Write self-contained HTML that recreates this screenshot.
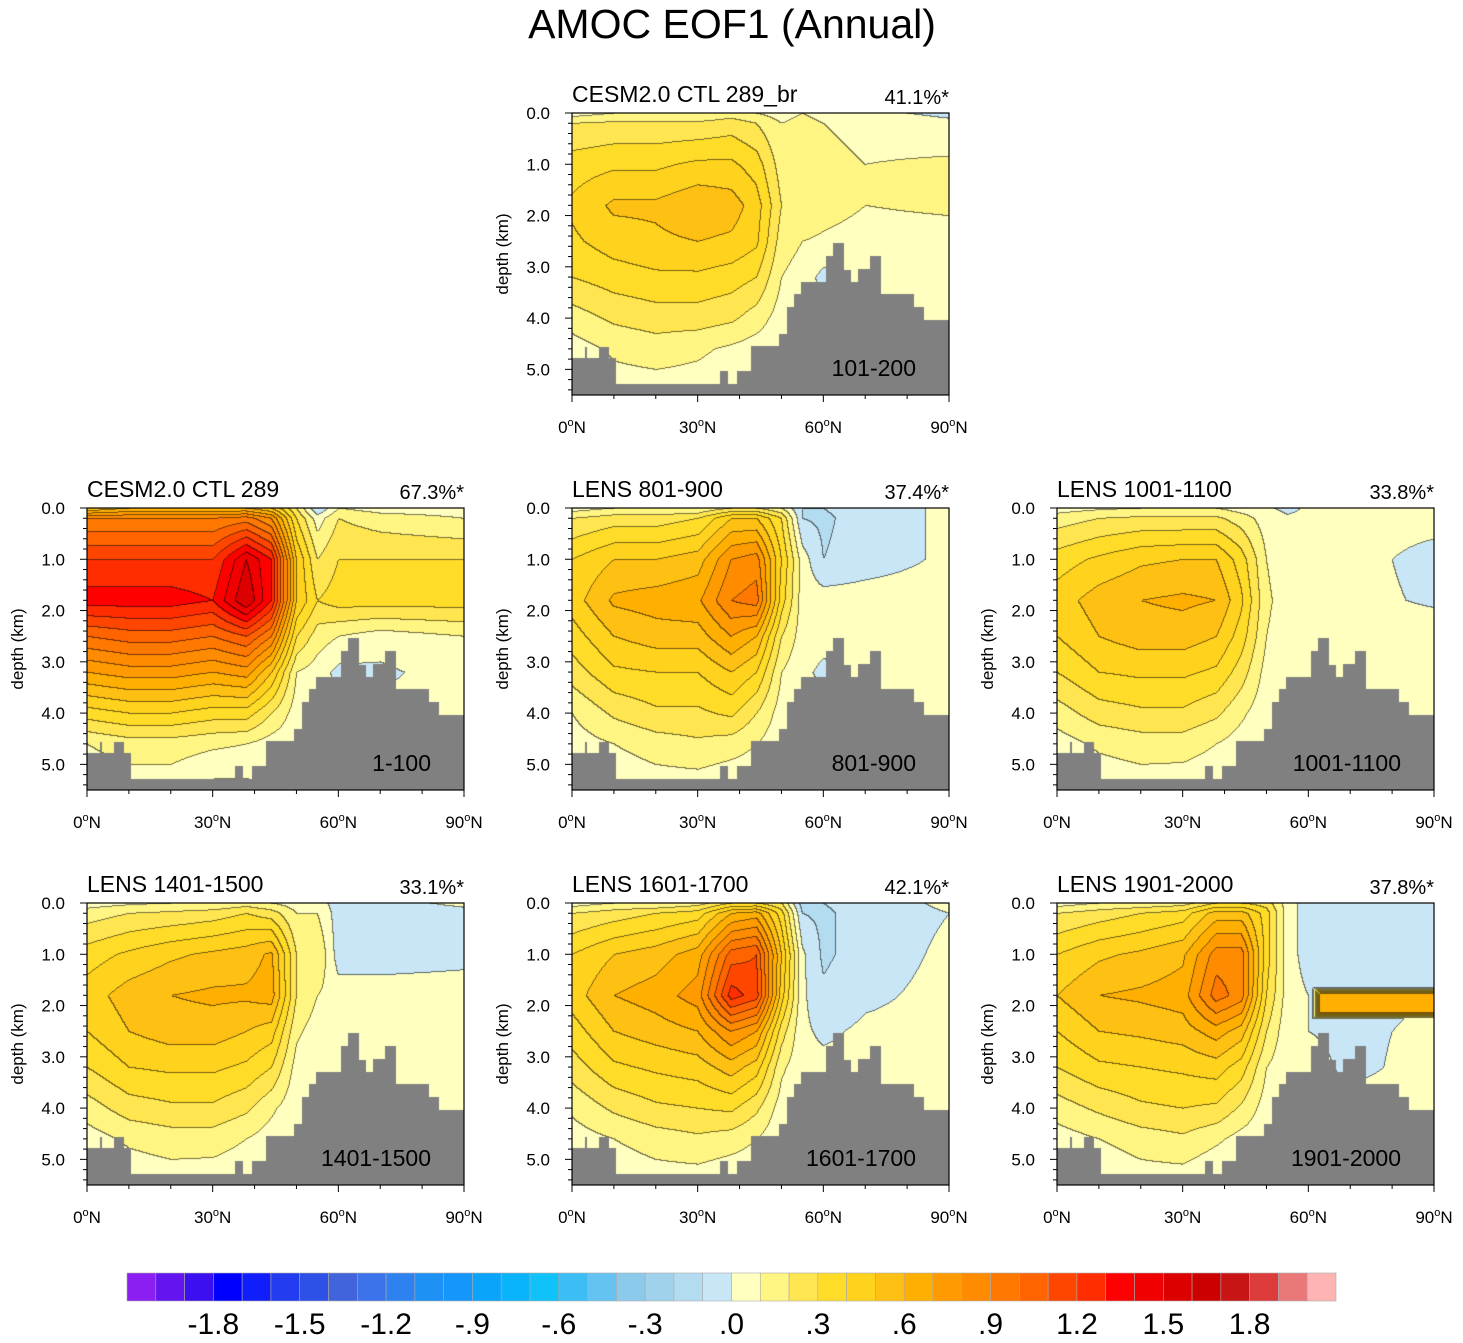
<!DOCTYPE html>
<html><head><meta charset="utf-8"><title>AMOC EOF1 (Annual)</title>
<style>
html,body{margin:0;padding:0;background:#fff;}
#wrap{position:relative;width:1463px;height:1343px;overflow:hidden;font-family:"Liberation Sans",sans-serif;}
canvas{position:absolute;}
svg{position:absolute;left:0;top:0;}
</style></head>
<body>
<div id="wrap">
<svg id="svg" width="1463" height="1343"></svg>
</div>
<script>
// ---- data ----
const levels = [-2.0,-1.9,-1.8,-1.7,-1.6,-1.5,-1.4,-1.3,-1.2,-1.1,-1.0,-0.9,-0.8,-0.7,-0.6,-0.5,-0.4,-0.3,-0.2,-0.1,0,0.1,0.2,0.3,0.4,0.5,0.6,0.7,0.8,0.9,1.0,1.1,1.2,1.3,1.4,1.5,1.6,1.7,1.8,1.9,2.0];
const colors = ["#8B1EF0","#6414F0","#3C0FF0","#0000FF","#0F1EFA","#233CF0","#2D50E6","#4164DC","#3C73EB","#2D82F0","#1E91F5","#1496FA","#0AA5FA","#0AB4FA","#0FC3FA","#3CBEF5","#64C3F0","#8CCAEB","#A0D2EB","#B4DCF0","#C8E6F5",
"#FFFFC0","#FFF582","#FFE650","#FFDC28","#FFD21E","#FFC014","#FFAF00","#FF9B00","#FF8C00","#FF7800","#FF6400","#FF4600","#FF2D00","#FF0000","#F00000","#DC0000","#CD0000","#C81414","#DC3C3C","#EB7878","#FFB4B4"];
const cbarLabels = ["-1.8","-1.5","-1.2","-.9","-.6","-.3",".0",".3",".6",".9","1.2","1.5","1.8"];
const cbarLabelValues = [-1.8,-1.5,-1.2,-0.9,-0.6,-0.3,0,0.3,0.6,0.9,1.2,1.5,1.8];
const gridLats = [0,10,20,30,38,44,50,55,60,70,90];
const gridDepths = [0,0.2,1,1.8,2.5,3.2,4,4.6,5.4];
// bathymetry: step start latitudes and seafloor depth (km)
const bathyLat = [0,3,3.4,6.3,8.6,10.3,35.3,37.2,39.2,42.6,49.4,51.3,52.8,54.6,60.6,62.1,64.9,66.5,68.1,71,73.7,81.6,84];
const bathyDep = [4.76,4.55,4.76,4.55,4.76,5.28,5.03,5.28,5.03,4.53,4.3,3.78,3.53,3.28,2.78,2.53,3.05,3.28,3.03,2.78,3.53,3.78,4.03];
const xTickLabels = ["0","30","60","90"];
const yTickLabels = ["0.0","1.0","2.0","3.0","4.0","5.0"];

const panelTitles = ["CESM2.0 CTL 289_br","CESM2.0 CTL 289","LENS 801-900","LENS 1001-1100","LENS 1401-1500","LENS 1601-1700","LENS 1901-2000"];
const panelPcts = ["41.1%*","67.3%*","37.4%*","33.8%*","33.1%*","42.1%*","37.8%*"];
const panelPeriods = ["101-200","1-100","801-900","1001-1100","1401-1500","1601-1700","1901-2000"];

const field0 = [
[0.05,0.1,0.1,0.1,0.15,0.1,0.05,0.1,0.05,0.02,-0.02],
[0.2,0.22,0.22,0.22,0.25,0.2,0.1,0.15,0.1,0.05,0.02],
[0.35,0.38,0.38,0.42,0.42,0.35,0.15,0.15,0.15,0.1,0.12],
[0.42,0.52,0.52,0.58,0.55,0.45,0.2,0.2,0.15,0.1,0.12],
[0.38,0.45,0.48,0.5,0.48,0.42,0.15,0.1,0.08,0.05,0.05],
[0.3,0.35,0.38,0.38,0.35,0.3,0.1,0.05,-0.03,0.02,0.05],
[0.15,0.22,0.25,0.25,0.22,0.15,0.05,0.05,0.03,0.03,0.03],
[0.05,0.12,0.15,0.12,0.08,0.05,0.03,0.03,0.03,0.03,0.03],
[-0.02,0.05,0.05,0.05,0.02,0.02,0.02,0.02,0.02,0.02,0.02]];
const field1 = [
[0.5,0.6,0.6,0.6,0.6,0.5,0.2,-0.1,0.1,0.05,0.05],
[0.9,0.9,0.9,0.9,0.95,0.8,0.3,0.05,0.2,0.15,0.1],
[1.2,1.2,1.2,1.2,1.5,1.3,0.5,0.2,0.3,0.3,0.3],
[1.35,1.35,1.35,1.3,1.6,1.3,0.5,0.3,0.35,0.35,0.35],
[1.0,1.05,1.05,1.0,1.1,0.9,0.3,0.15,0.1,0.05,0.1],
[0.7,0.75,0.75,0.7,0.75,0.5,0.1,0.05,-0.03,-0.02,0.05],
[0.35,0.4,0.4,0.35,0.35,0.2,0.05,0.03,0.03,0.03,0.03],
[0.1,0.15,0.15,0.12,0.1,0.05,0.03,0.03,0.03,0.03,0.03],
[0.02,0.05,0.05,-0.02,-0.02,0.02,0.02,0.02,0.02,0.02,0.02]];
const field2 = [
[0.05,0.1,0.1,0.1,0.2,0.2,0.1,-0.1,-0.1,-0.05,0.02],
[0.2,0.25,0.25,0.3,0.5,0.5,0.3,-0.1,-0.12,-0.05,0.02],
[0.4,0.5,0.5,0.55,0.8,0.85,0.4,0.05,-0.1,-0.05,0.02],
[0.45,0.62,0.65,0.68,0.9,0.95,0.35,0.05,0.05,0.05,0.05],
[0.35,0.5,0.55,0.55,0.7,0.6,0.2,0.05,0.03,0.05,0.05],
[0.25,0.38,0.4,0.4,0.5,0.4,0.1,0.02,-0.02,0.03,0.03],
[0.1,0.22,0.28,0.28,0.32,0.2,0.05,0.03,0.03,0.03,0.03],
[0.05,0.1,0.15,0.18,0.15,0.1,0.03,0.03,0.03,0.03,0.03],
[-0.02,0.02,0.05,0.05,0.02,0.02,0.02,0.02,0.02,0.02,0.02]];
const field3 = [
[0.05,0.08,0.1,0.1,0.1,0.05,0.02,-0.03,0.02,0.02,0.02],
[0.15,0.2,0.22,0.22,0.22,0.15,0.05,0.02,0.02,0.02,0.02],
[0.35,0.42,0.48,0.5,0.5,0.35,0.1,0.03,0.02,0.02,-0.02],
[0.45,0.55,0.6,0.62,0.6,0.42,0.12,0.05,0.02,0.02,-0.01],
[0.4,0.5,0.55,0.55,0.5,0.35,0.1,0.04,0.03,0.03,0.04],
[0.3,0.4,0.42,0.42,0.38,0.25,0.06,0.03,0.03,0.03,0.03],
[0.15,0.25,0.28,0.28,0.22,0.12,0.03,0.03,0.03,0.03,0.03],
[0.05,0.12,0.15,0.15,0.1,0.05,0.03,0.03,0.03,0.03,0.03],
[-0.02,0.03,0.05,0.04,0.02,0.01,0.02,0.02,0.02,0.02,0.02]];
const field4 = [
[0.05,0.08,0.1,0.1,0.15,0.1,0.05,0.05,-0.05,-0.03,0.02],
[0.15,0.2,0.22,0.25,0.3,0.25,0.1,0.1,-0.05,-0.05,-0.03],
[0.35,0.42,0.48,0.52,0.55,0.62,0.2,0.2,-0.05,-0.05,-0.03],
[0.45,0.55,0.6,0.62,0.62,0.65,0.2,0.1,0.05,0.05,0.05],
[0.4,0.5,0.55,0.55,0.5,0.45,0.12,0.05,0.03,0.03,0.04],
[0.3,0.4,0.42,0.42,0.38,0.3,0.06,0.03,0.03,0.03,0.03],
[0.15,0.25,0.28,0.28,0.22,0.12,0.03,0.03,0.03,0.03,0.03],
[0.05,0.12,0.15,0.15,0.1,0.05,0.03,0.03,0.03,0.03,0.03],
[-0.02,0.03,0.05,0.04,0.02,0.01,0.02,0.02,0.02,0.02,0.02]];
const field5 = [
[0.05,0.1,0.1,0.15,0.3,0.3,0.2,-0.15,-0.1,-0.05,0.02],
[0.2,0.25,0.3,0.35,0.6,0.65,0.35,-0.1,-0.12,-0.05,0],
[0.4,0.5,0.55,0.65,1.05,1.1,0.5,0.02,-0.12,-0.05,0.02],
[0.45,0.6,0.65,0.75,1.25,1.15,0.45,0.02,-0.08,-0.02,0.03],
[0.35,0.5,0.55,0.6,0.8,0.7,0.25,0.02,-0.02,0.02,0.03],
[0.25,0.38,0.42,0.45,0.55,0.45,0.12,0.03,0.03,0.03,0.03],
[0.12,0.22,0.28,0.3,0.32,0.22,0.05,0.03,0.03,0.03,0.03],
[0.05,0.1,0.15,0.18,0.15,0.1,0.02,0.03,0.03,0.03,0.03],
[-0.02,0.02,0.05,0.05,0.02,0.02,0.02,0.02,0.02,0.02,0.02]];
const field6 = [
[0.05,0.1,0.12,0.15,0.3,0.3,0.25,0.05,-0.05,-0.03,0],
[0.2,0.25,0.3,0.35,0.55,0.55,0.35,0.05,-0.05,-0.05,0],
[0.4,0.48,0.52,0.58,0.85,0.85,0.35,0.05,-0.05,-0.1,-0.03],
[0.5,0.6,0.62,0.65,0.95,0.85,0.3,0.05,0.0,-0.03,0],
[0.4,0.5,0.52,0.55,0.65,0.55,0.2,0.03,0,-0.02,0.02],
[0.3,0.38,0.4,0.42,0.45,0.35,0.1,0.03,0.03,-0.02,0.03],
[0.15,0.22,0.28,0.3,0.28,0.18,0.05,0.03,0.03,0.03,0.03],
[0.05,0.1,0.15,0.18,0.12,0.06,0.03,0.03,0.03,0.03,0.03],
[-0.03,0,0.05,0.05,0,0.02,0.02,0.02,0.02,0.02,0.02]];
const fields = [field0,field1,field2,field3,field4,field5,field6];
// extra band (panel 1901-2000): lat range, depth range, value
const bandPanel = [6];
const bandLat = [[61,90]];
const bandDep = [[1.65,2.25]];
const bandVal = [0.68];

// ---- layout ----
const PW = 377, PH = 282, DMAX = 5.5;
const panelX = [572,87,572,1057,87,572,1057];
const panelY = [113,508,508,508,903,903,903];
const SVGNS = "http://www.w3.org/2000/svg";
const svg = document.getElementById('svg');
const wrap = document.getElementById('wrap');

function xScale(px, lat){ return px + lat/90*PW; }
function yScale(py, d){ return py + d/DMAX*PH; }
function mk(tag, attrs, parent){ const e=document.createElementNS(SVGNS,tag); for(const k in attrs) e.setAttribute(k,attrs[k]); (parent||svg).appendChild(e); return e; }
function hex(c){ return [parseInt(c.slice(1,3),16),parseInt(c.slice(3,5),16),parseInt(c.slice(5,7),16)]; }
const rgb = colors.map(hex);

function seg(arr, v){
  let i=0; while(i<arr.length-2 && v>arr[i+1]) i++;
  let t=(v-arr[i])/(arr[i+1]-arr[i]); t=Math.max(0,Math.min(1,t)); return [i,t];
}
function value(f, lat, d){
  const [i,t]=seg(gridLats,lat), [j,s]=seg(gridDepths,d);
  const a=f[j][i], b=f[j][i+1], c=f[j+1][i], e=f[j+1][i+1];
  return (a*(1-t)+b*t)*(1-s)+(c*(1-t)+e*t)*s;
}
function bathy(lat){
  let k=0; for(let i=0;i<bathyLat.length;i++) if(lat>=bathyLat[i]) k=i; return bathyDep[k];
}
function levelIndex(v){
  let k=0; while(k<levels.length && v>=levels[k]-1e-9) k++; return k;
}

const title = mk('text',{x:732,y:38,'text-anchor':'middle','font-size':41,fill:'#000'});
title.textContent='AMOC EOF1 (Annual)';



for(let p=0;p<7;p++){
  const px=panelX[p], py=panelY[p], f=fields[p];
  const cv=document.createElement('canvas');
  cv.width=PW; cv.height=PH; cv.style.left=px+'px'; cv.style.top=py+'px';
  
  
  wrap.insertBefore(cv, svg);
  const ctx=cv.getContext('2d');
  const img=ctx.createImageData(PW,PH);
  const idx=new Int16Array(PW*PH);
  const bi=bandPanel.indexOf(p);
  for(let y=0;y<PH;y++){
    const d=y/PH*DMAX;
    for(let x=0;x<PW;x++){
      const lat=x/PW*90;
      let v=value(f,lat,d);
      if(bi>=0){
        const [la0,la1]=bandLat[bi], [d0,d1]=bandDep[bi];
        if(lat>=la0&&lat<=la1&&d>=d0&&d<=d1){
          const e=Math.min((lat-la0)*0.06,(la1-lat)*10,d-d0,d1-d);
          v=v+(bandVal[bi]-v)*Math.min(1,e/0.12);
        }
      }
      idx[y*PW+x]=levelIndex(v);
    }
  }
  for(let y=0;y<PH;y++){
    const d=y/PH*DMAX;
    for(let x=0;x<PW;x++){
      const lat=x/PW*90;
      const o=(y*PW+x)*4;
      if(d>=bathy(lat)){ img.data[o]=128;img.data[o+1]=128;img.data[o+2]=128;img.data[o+3]=255; continue; }
      const k=idx[y*PW+x];
      let c=rgb[k];
      const edge=(x<PW-1&&idx[y*PW+x+1]!==k)||(y<PH-1&&idx[(y+1)*PW+x]!==k);
      const m=edge?0.45:1;
      img.data[o]=c[0]*m;img.data[o+1]=c[1]*m;img.data[o+2]=c[2]*m;img.data[o+3]=255;
    }
  }
  ctx.putImageData(img,0,0);

  const fr=mk('rect',{x:px,y:py,width:PW,height:PH,fill:'none',stroke:'#000','stroke-width':1.2});
  
  
  for(let d=0; d<=5.41; d+=0.2){
    const yy=yScale(py,d); const major=Math.abs(d-Math.round(d))<0.01;
    mk('line',{x1:px-(major?7:4),x2:px,y1:yy,y2:yy,stroke:'#000','stroke-width':1});
  }
  yTickLabels.forEach((lab,i)=>{
    const t=mk('text',{x:px-22,y:yScale(py,i)+6,'text-anchor':'end','font-size':17});
    t.textContent=lab;
    
    
  });
  const yl=mk('text',{x:0,y:0,'text-anchor':'middle','font-size':17,transform:`translate(${px-64},${py+PH/2}) rotate(-90)`});
  yl.textContent='depth (km)';
  
  
  for(let lat=0;lat<=90;lat+=10){
    const xx=xScale(px,lat); const major=lat%30===0;
    mk('line',{x1:xx,x2:xx,y1:py+PH,y2:py+PH+(major?7:4),stroke:'#000','stroke-width':1});
  }
  xTickLabels.forEach((lab,i)=>{
    const t=mk('text',{x:xScale(px,i*30),y:py+PH+38,'text-anchor':'middle','font-size':17});
    t.innerHTML=lab+'<tspan font-size="11" dy="-7">o</tspan><tspan dy="7">N</tspan>';
    
    
  });
  const pt=mk('text',{x:px,y:py-11,'font-size':23});
  pt.textContent=panelTitles[p];
  
  
  const pc=mk('text',{x:px+PW,y:py-9,'text-anchor':'end','font-size':20});
  pc.textContent=panelPcts[p];
  
  
  const pl=mk('text',{x:px+PW-33,y:py+PH-19,'text-anchor':'end','font-size':23});
  pl.textContent=panelPeriods[p];
  
  
}

const cbX=127, cbW=1209, cbY=1273, cbH=28, nb=colors.length, bw=cbW/nb;
function cbScale(v){ return cbX + bw + (v-levels[0])/0.1*bw; }
colors.forEach((c,k)=>{
  const r=mk('rect',{x:cbX+k*bw,y:cbY,width:bw,height:cbH,fill:c,stroke:'#aaa','stroke-width':0.6});
  
  
});
cbarLabels.forEach((lab,i)=>{
  const t=mk('text',{x:cbScale(cbarLabelValues[i]),y:1334,'text-anchor':'middle','font-size':30});
  t.textContent=lab;
  
  
});
</script>
</body></html>
